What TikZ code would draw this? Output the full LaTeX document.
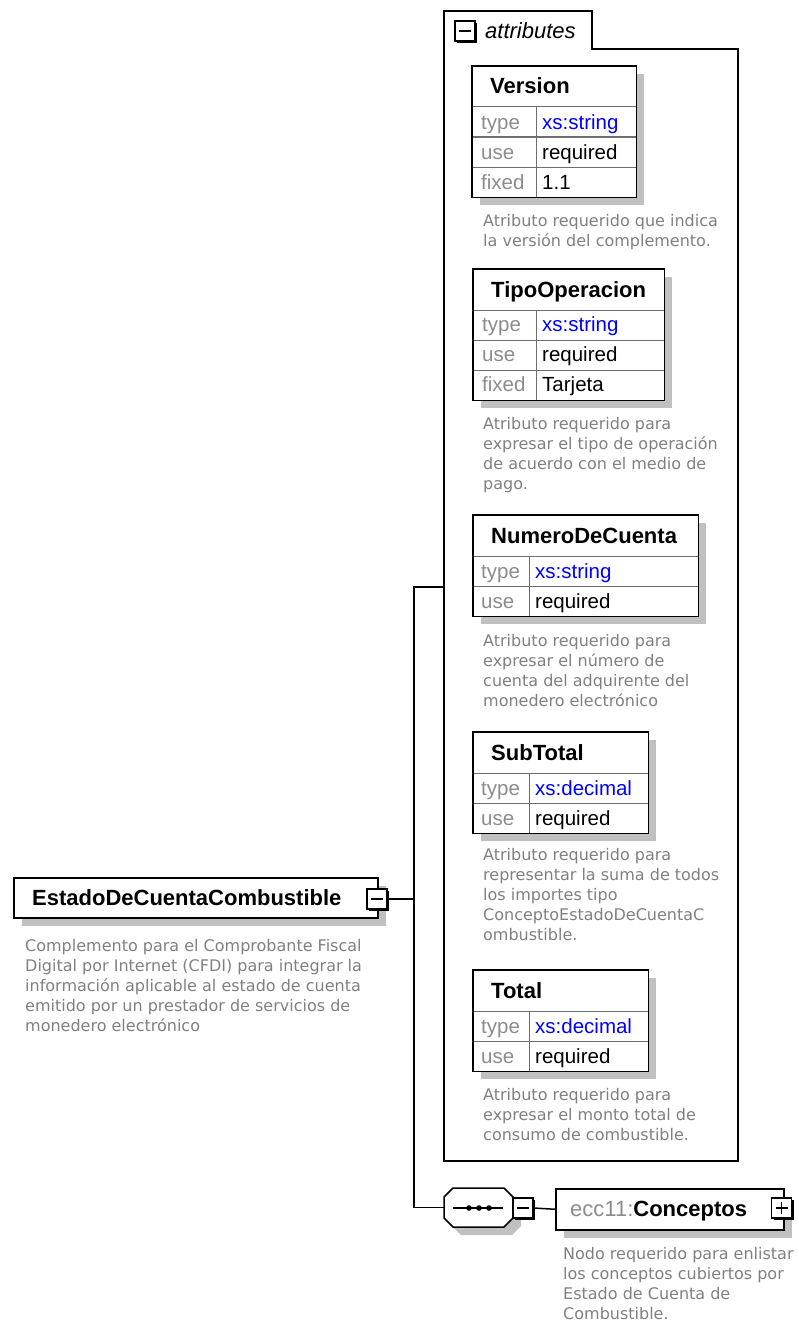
\documentclass[tikz,border=0pt]{standalone}
\usepackage{fontspec}
\setmainfont{Liberation Sans}
\newfontfamily\descfam{DejaVu Sans}
\usetikzlibrary{positioning,calc,shadows}
\definecolor{ShadowGray}{RGB}{192,192,192}
\definecolor{DescGray}{RGB}{128,128,128}
\definecolor{KeyGray}{RGB}{140,140,140}
\definecolor{SepGray}{RGB}{110,110,110}
\definecolor{TypeBlue}{RGB}{0,0,255}
\newcommand{\cellfont}{\fontsize{20.5}{24}\selectfont}
\newcommand{\titlefont}{\fontsize{22}{26}\selectfont\bfseries}
\newcommand{\descfont}{\descfam\fontsize{16}{20}\selectfont}
\newcommand{\seqoutline}{(444,1197) -- (453,1188) -- (504,1188) -- (513,1197) -- (513,1218) -- (504,1227) -- (453,1227) -- (444,1218) -- cycle}
\tikzstyle{framebox} = [draw=black, line width=1.5]
\tikzstyle{cellsep} = [draw=SepGray, line width=1]
\tikzstyle{conn} = [draw=black, line width=1.5]
\tikzstyle{boxshadow} = [drop shadow={shadow xshift=8pt, shadow yshift=-8pt, fill=ShadowGray, opacity=1}]
\tikzstyle{attrframe} = [anchor=north west, fill=white, inner sep=0, boxshadow]
\tikzstyle{elembox} = [anchor=north west, fill=white, inner sep=0, framebox, boxshadow]
\tikzstyle{attrtitle} = [anchor=base west, inner sep=0, font=\titlefont]
\tikzstyle{keycell} = [anchor=base west, inner sep=0, font=\cellfont, text=KeyGray]
\tikzstyle{valcell} = [anchor=base west, inner sep=0, font=\cellfont]
\tikzstyle{desc} = [anchor=north west, inner sep=0, align=left, font=\descfont, text=DescGray]
\tikzstyle{togglebox} = [draw=black, fill=white, line width=1.2, minimum size=20, inner sep=0,
  drop shadow={shadow xshift=2pt, shadow yshift=-2pt, fill=black, opacity=1}]
\tikzstyle{minusbox} = [togglebox, path picture={\draw[line width=1.2]
  ([xshift=4pt]path picture bounding box.west) -- ([xshift=-4pt]path picture bounding box.east);}]
\tikzstyle{plusbox} = [togglebox, path picture={\draw[line width=1.2]
  ([xshift=4pt]path picture bounding box.west) -- ([xshift=-4pt]path picture bounding box.east)
  ([yshift=-4pt]path picture bounding box.north) -- ([yshift=4pt]path picture bounding box.south);}]
% id, x, y, width, key column, rows, title
\newcommand{\attrtable}[7]{%
  \node[attrframe, minimum width=#4, minimum height={41+30*#6}] (#1) at (#2,#3) {};
  \foreach \k in {1,...,#6}
    \draw[cellsep] ([yshift={-(11+30*\k)*1pt}]#1.north west) -- ([yshift={-(11+30*\k)*1pt}]#1.north east);
  \draw[cellsep] ([xshift=#5pt,yshift=-41pt]#1.north west) -- ([xshift=#5pt]#1.south west);
  \draw[framebox] (#1.north west) rectangle (#1.south east);
  \node[attrtitle] (#1-title) at ([xshift=18pt,yshift=-28pt]#1.north west) {#7};
}

\begin{document}
\begin{tikzpicture}[x=1pt,y=-1pt]
\useasboundingbox (0,0) rectangle (799,1327);

% attribute group
\draw[framebox] (444,1161) -- (444,11) -- (592,11) -- (592,49) -- (738,49) -- (738,1161) -- cycle;
\node[minusbox] (attrmin) at (465,31) {};
\node[anchor=base west, inner sep=0, font=\fontsize{22}{26}\selectfont\itshape] (attrlbl) at (485,39) {attributes};

\attrtable{ver}{472}{66}{164}{64}{3}{Version}
\node[keycell] (ver-k1) at (481,129) {type};
\node[valcell, text=TypeBlue] (ver-v1) at (542,129) {xs:string};
\node[keycell] (ver-k2) at (481,159) {use};
\node[valcell] (ver-v2) at (542,159) {required};
\node[keycell] (ver-k3) at (481,189) {fixed};
\node[valcell] (ver-v3) at (542,189) {1.1};
\node[desc] (ver-desc) at (483,214) {Atributo requerido que indica\\la versión del complemento.};

\attrtable{tipo}{473}{269}{191}{63}{3}{TipoOperacion}
\node[keycell] (tipo-k1) at (482,331) {type};
\node[valcell, text=TypeBlue] (tipo-v1) at (542,331) {xs:string};
\node[keycell] (tipo-k2) at (482,361) {use};
\node[valcell] (tipo-v2) at (542,361) {required};
\node[keycell] (tipo-k3) at (482,391) {fixed};
\node[valcell] (tipo-v3) at (542,391) {Tarjeta};
\node[desc] (tipo-desc) at (483,417) {Atributo requerido para\\expresar el tipo de operación\\de acuerdo con el medio de\\pago.};

\attrtable{num}{473}{515}{225}{56}{2}{NumeroDeCuenta}
\node[keycell] (num-k1) at (481,578) {type};
\node[valcell, text=TypeBlue] (num-v1) at (535,578) {xs:string};
\node[keycell] (num-k2) at (481,608) {use};
\node[valcell] (num-v2) at (535,608) {required};
\node[desc] (num-desc) at (483,634) {Atributo requerido para\\expresar el número de\\cuenta del adquirente del\\monedero electrónico};

\attrtable{sub}{473}{732}{175}{56}{2}{SubTotal}
\node[keycell] (sub-k1) at (481,795) {type};
\node[valcell, text=TypeBlue] (sub-v1) at (535,795) {xs:decimal};
\node[keycell] (sub-k2) at (481,825) {use};
\node[valcell] (sub-v2) at (535,825) {required};
\node[desc] (sub-desc) at (483,848) {Atributo requerido para\\representar la suma de todos\\los importes tipo\\ConceptoEstadoDeCuentaC\\ombustible.};

\attrtable{tot}{473}{970}{175}{56}{2}{Total}
\node[keycell] (tot-k1) at (481,1033) {type};
\node[valcell, text=TypeBlue] (tot-v1) at (535,1033) {xs:decimal};
\node[keycell] (tot-k2) at (481,1063) {use};
\node[valcell] (tot-v2) at (535,1063) {required};
\node[desc] (tot-desc) at (483,1088) {Atributo requerido para\\expresar el monto total de\\consumo de combustible.};

% root element
\node[elembox, minimum width=364, minimum height=40] (root) at (13,877) {};
\node[attrtitle] (root-title) at (32,905) {EstadoDeCuentaCombustible};
\node[minusbox] (rootmin) at (377,899) {};
\node[desc] (root-desc) at (25,939) {Complemento para el Comprobante Fiscal\\Digital por Internet (CFDI) para integrar la\\información aplicable al estado de cuenta\\emitido por un prestador de servicios de\\monedero electrónico};

% sequence and child element
\node[inner sep=0, minimum width=69, minimum height=39] (seq) at (478.5,1207.5) {};
\fill[ShadowGray, shift={(8,8)}] \seqoutline;
\filldraw[fill=white, framebox] \seqoutline;
\draw[line width=1.2] (453,1208) -- (503,1208);
\foreach \d in {469,479,489}
  \fill (\d,1208) circle (2.8);
\node[minusbox] (seqmin) at (523,1208) {};
\node[elembox, minimum width=228, minimum height=41] (conc) at (555,1188) {};
\node[attrtitle] (conc-title) at (570,1216) {\textcolor{KeyGray}{\mdseries ecc11:}Conceptos};
\node[plusbox] (concplus) at (781.5,1208) {};
\node[desc] (conc-desc) at (563,1247) {Nodo requerido para enlistar\\los conceptos cubiertos por\\Estado de Cuenta de\\Combustible.};

% connectors
\coordinate (attrjoin) at (444,587);
\coordinate (trunkbend) at (414,1207.5);
\draw[conn] (rootmin.east) -- (rootmin.east -| trunkbend);
\draw[conn] (attrjoin) -| (trunkbend) -- (seq.west);
\draw[conn] (seqmin.east) -- (conc.west);
\end{tikzpicture}
\end{document}
